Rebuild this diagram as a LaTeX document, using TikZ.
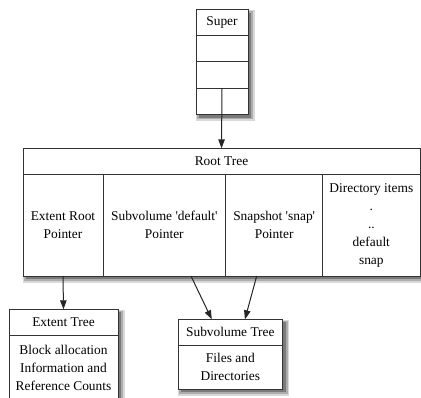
\documentclass[tikz,border=0pt]{standalone}
\usepackage{fontspec}
\setmainfont{Liberation Serif}
\usetikzlibrary{arrows.meta}
\newcommand{\mkshadow}[4]{%
  \fill[black!15] (#1,#2-0.5) rectangle (#3+6.5,#4-6.5);
  \fill[black!32] (#1+1.2,#2-1.8) rectangle (#3+5,#4-5);
  \fill[black!52] (#1+2.5,#2-3) rectangle (#3+3.3,#4-3.3);
}
\begin{document}
\begin{tikzpicture}[x=1pt,y=1pt,
  cell/.style={draw=black!80,line width=1pt,fill=white,inner sep=0pt,outer sep=0pt,align=center,
    font=\fontsize{13.4}{18}\selectfont},
  arr/.style={line width=1pt,draw=black!85,-{Triangle[length=9pt,width=6.5pt]}}]
\useasboundingbox (0,0) rectangle (421,-397);
% shadows
\mkshadow{196}{-9.5}{248}{-114.3}
\mkshadow{23}{-148.3}{420}{-276}
\mkshadow{9}{-309.3}{118}{-399.7}
\mkshadow{178}{-319.3}{282.7}{-389}
% Super
\node[cell,minimum width=52,minimum height=26.2] (s1) at (222,-22.6) {Super};
\node[cell,minimum width=52,minimum height=26.2] (s2) at (222,-48.8) {};
\node[cell,minimum width=52,minimum height=26.2] (s3) at (222,-75.0) {};
\node[cell,minimum width=52,minimum height=26.2] (s4) at (222,-101.2) {};
% Root tree
\node[cell,minimum width=397,minimum height=25.7] (rh) at (221.5,-161.15) {Root Tree};
\node[cell,minimum width=80,minimum height=102] (c1) at (63,-225) {Extent Root\\Pointer};
\node[cell,minimum width=122.7,minimum height=102] (c2) at (164.35,-225) {Subvolume \textquotesingle default\textquotesingle\\Pointer};
\node[cell,minimum width=97,minimum height=102] (c3) at (274.2,-225) {Snapshot \textquotesingle snap\textquotesingle\\Pointer};
\node[cell,minimum width=97.3,minimum height=102] (c4) at (371.35,-225) {Directory items\\.\\..\\default\\snap};
% Extent tree
\node[cell,minimum width=109,minimum height=26.4] (eh) at (63.5,-322.5) {Extent Tree};
\node[cell,minimum width=109,minimum height=64] (eb) at (63.5,-367.7) {Block allocation\\Information and\\Reference Counts};
% Subvolume tree
\node[cell,minimum width=104.7,minimum height=25.7] (sh) at (230.35,-332.15) {Subvolume Tree};
\node[cell,minimum width=104.7,minimum height=44] (sb) at (230.35,-367) {Files and\\Directories};
% connectors
\draw[arr] (s4.north) -- (rh.north);
\draw[arr] (c1.south) -- (eh.north);
\draw[arr] ([xshift=26.6pt]c2.south) -- ([xshift=-18.6pt]sh.north);
\draw[arr] ([xshift=-17.5pt]c3.south) -- ([xshift=14.6pt]sh.north);
\end{tikzpicture}
\end{document}
